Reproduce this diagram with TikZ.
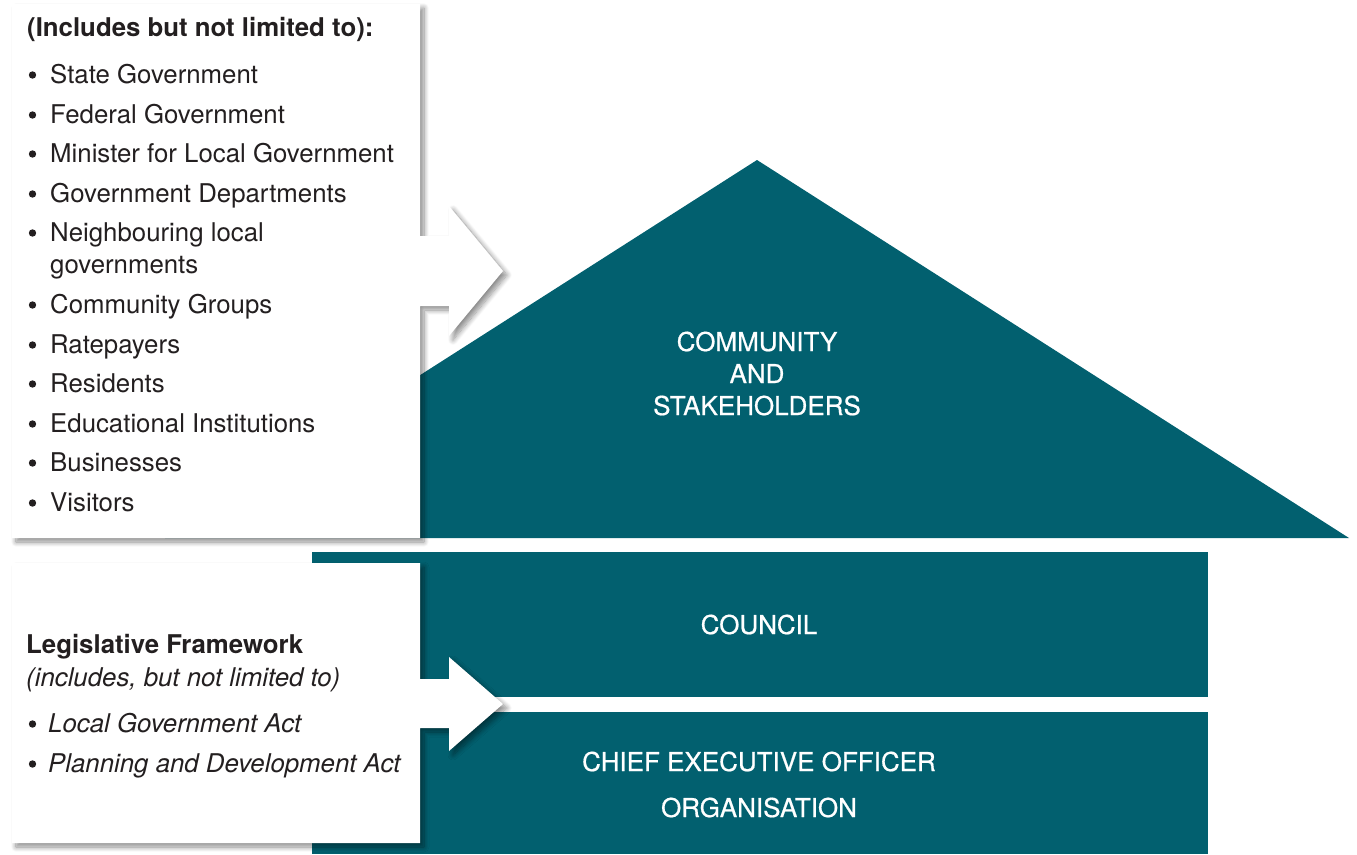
\documentclass[tikz,border=0pt]{standalone}
\usepackage{fontspec}
\setmainfont{TeX Gyre Heros}
\newfontfamily\medfont[FakeBold=0.6]{TeX Gyre Heros}
\usetikzlibrary{shadows.blur}
\definecolor{tealc}{HTML}{02606F}
\definecolor{txt}{HTML}{231F20}
\begin{document}
\begin{tikzpicture}[x=1pt,y=-1pt,
  lbl/.style={text=txt, font=\fontsize{25.8}{30}\selectfont, anchor=base west, inner sep=0pt},
  bul/.style={circle, fill=txt, inner sep=0pt, minimum size=7.4pt},
  wlbl/.style={text=white, font=\medfont\fontsize{26}{30}\selectfont, anchor=base, inner sep=0pt},
  panel/.style={fill=white, blur shadow={shadow xshift=4pt, shadow yshift=-4pt, shadow blur radius=5pt, shadow blur steps=10, shadow opacity=45}},
  block/.style={fill=tealc}]
\useasboundingbox (0,0) rectangle (1357,854);
% teal shapes
\fill[block] (757,160) -- (1349,538) -- (165,538) -- cycle;
\fill[block] (312,552) rectangle (1208,697);
\fill[block] (312,712) rectangle (1208,854);
% white panels with arrows
\path[panel] (12,4) -- (420,4) -- (420,236) -- (449,236) -- (449,206) -- (503,271) -- (449,336) -- (449,306) -- (420,306) -- (420,538) -- (12,538) -- cycle;
\path[panel] (12,563) -- (420,563) -- (420,679) -- (449,679) -- (449,657) -- (503,704) -- (449,751) -- (449,728) -- (420,728) -- (420,843) -- (12,843) -- cycle;
% top list
\node[lbl, font=\fontsize{25.8}{30}\selectfont\bfseries] (hdr) at (27,36) {(Includes but not limited to):};
\foreach \n/\y/\t in {a/83/State Government, b/123/Federal Government, c/162/Minister for Local Government, d/202/Government Departments, e/241/Neighbouring local, g/313/Community Groups, h/353/Ratepayers, i/392/Residents, j/432/Educational Institutions, k/471/Businesses, l/511/Visitors}{
  \node[bul] (b\n) at (32.5,\y-8) {};
  \node[lbl] (t\n) at (50,\y) {\t};
}
\node[lbl] (te2) at (50,273) {governments};
% bottom list
\node[lbl, font=\fontsize{25.8}{30}\selectfont\bfseries] (lf) at (26,653) {Legislative Framework};
\node[lbl, font=\fontsize{25.8}{30}\selectfont\itshape] (lfi) at (26,686) {(includes, but not limited to)};
\node[bul] (bm) at (32.5,724) {};
\node[lbl, font=\fontsize{25.8}{30}\selectfont\itshape] (tm) at (48,732) {Local Government Act};
\node[bul] (bn) at (32.5,764) {};
\node[lbl, font=\fontsize{25.8}{30}\selectfont\itshape] (tn) at (48,772) {Planning and Development Act};
% right labels
\node[wlbl] (comm) at (757,351) {COMMUNITY};
\node[wlbl] (and) at (757,383) {AND};
\node[wlbl] (stake) at (757,415) {STAKEHOLDERS};
\node[wlbl] (council) at (759,634) {COUNCIL};
\node[wlbl] (ceo) at (759,771) {CHIEF EXECUTIVE OFFICER};
\node[wlbl] (org) at (759,817) {ORGANISATION};
\end{tikzpicture}
\end{document}
